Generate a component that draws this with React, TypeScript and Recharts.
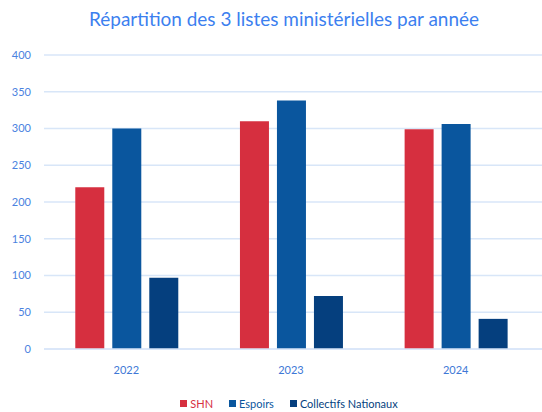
import { Bar, BarChart, CartesianGrid, Legend, XAxis, YAxis } from 'recharts';

const years = ['2022', '2023', '2024'];
const shn = [220, 310, 299];
const espoirs = [300, 338, 306];
const collectifs = [97, 72, 41];
const yTicks = [0, 50, 100, 150, 200, 250, 300, 350, 400];

const series = [
  { key: 'shn', name: 'SHN', color: '#D62F3F' },
  { key: 'espoirs', name: 'Espoirs', color: '#0A569E' },
  { key: 'collectifs', name: 'Collectifs Nationaux', color: '#053F7E' },
];

const data = years.map((year, i) => ({
  year,
  shn: shn[i],
  espoirs: espoirs[i],
  collectifs: collectifs[i],
}));

const font = 'Lato, "Open Sans", sans-serif';

function LegendRow() {
  return (
    <div style={{ display: 'flex', justifyContent: 'center', gap: 16, fontFamily: font, fontSize: 11, paddingLeft: 36 }}>
      {series.map((s) => (
        <div key={s.key} style={{ display: 'flex', alignItems: 'center', gap: 3, color: s.color }}>
          <span style={{ width: 7, height: 7, backgroundColor: s.color, display: 'inline-block' }} />
          <span>{s.name}</span>
        </div>
      ))}
    </div>
  );
}

export default function App() {
  return (
    <div style={{ position: 'absolute', left: 0, top: 0, width: 542, height: 412, background: '#fff' }}>
      <svg width={542} height={40} style={{ position: 'absolute', left: 0, top: 0 }}>
        <text
          x={284}
          y={26}
          textAnchor="middle"
          textLength={390}
          lengthAdjust="spacingAndGlyphs"
          fill="#3C7FEF"
          style={{ fontFamily: font, fontSize: 19 }}
        >
          Répartition des 3 listes ministérielles par année
        </text>
      </svg>
      <BarChart
        width={542}
        height={412}
        data={data}
        margin={{ top: 55, right: 0, bottom: 0, left: 0 }}
        barCategoryGap="19%"
        barGap={8}
      >
        <CartesianGrid horizontal vertical={false} stroke="#D8E6F8" strokeWidth={1.5} />
        <XAxis
          dataKey="year"
          axisLine={{ stroke: '#D8E6F8', strokeWidth: 1.5 }}
          tickLine={false}
          padding={{ left: 0, right: 4 }}
          height={34}
          tickMargin={11}
          tick={{ fill: '#3E78D6', fontSize: 11, fontFamily: font }}
        />
        <YAxis
          domain={[0, 400]}
          ticks={yTicks}
          axisLine={false}
          tickLine={false}
          width={44}
          tickMargin={7}
          tick={{ fill: '#4A82E0', fontSize: 11, fontFamily: font }}
        />
        <Legend
          verticalAlign="bottom"
          height={29}
          wrapperStyle={{ top: 397, bottom: 'auto' }}
          content={() => <LegendRow />}
        />
        {series.map((s) => (
          <Bar key={s.key} dataKey={s.key} name={s.name} fill={s.color} isAnimationActive={false} />
        ))}
      </BarChart>
    </div>
  );
}
